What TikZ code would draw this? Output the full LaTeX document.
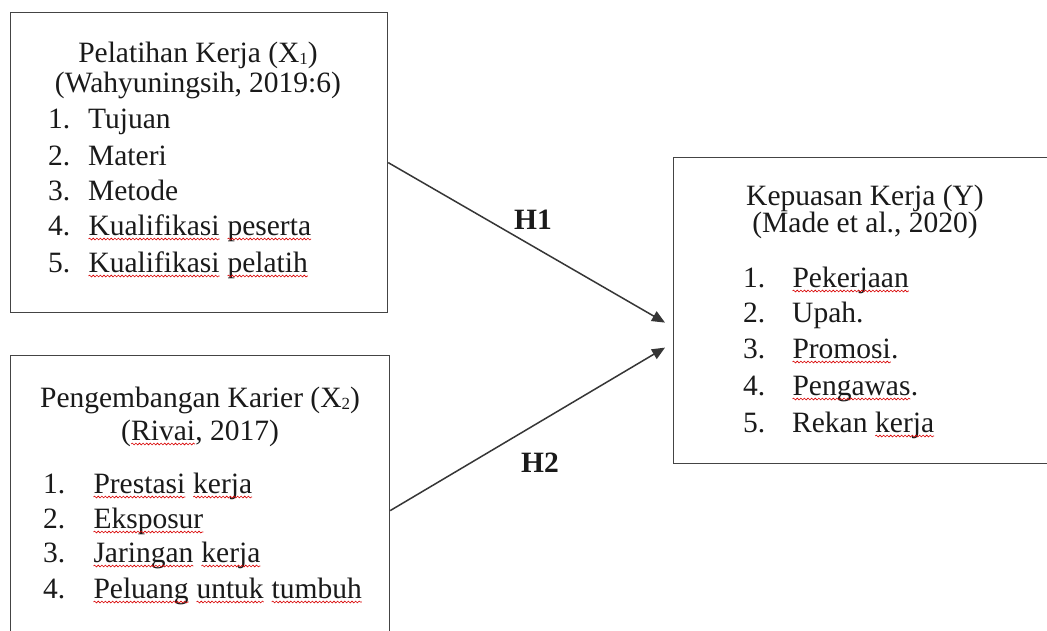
\documentclass[tikz,border=0pt]{standalone}
\usepackage{fontspec}
\setmainfont{Liberation Serif}
\usetikzlibrary{arrows.meta,decorations.pathmorphing}
\definecolor{ink}{HTML}{1A1A1A}
\definecolor{frame}{HTML}{444444}
\newcommand\sq[1]{\tikz[baseline=(w.base)]{\node[inner sep=0pt,outer sep=0pt,text=ink](w){#1};\draw[red!85!black,line width=0.6pt,decorate,decoration={snake,amplitude=0.9pt,segment length=3.6pt}]([yshift=-4pt]w.base west)--([yshift=-4pt]w.base east);}}
\newcommand\subidx[1]{\raisebox{-2pt}{\fontsize{17}{17}\selectfont #1}}
\begin{document}
\begin{tikzpicture}[x=1pt,y=-1pt,
  box/.style={draw=frame,line width=1.2pt,inner sep=0pt,anchor=north west},
  txt/.style={inner sep=0pt,text=ink,font=\fontsize{29.5}{35}\selectfont},
  hd/.style={txt,anchor=base},
  item/.style={txt,anchor=base west},
  link/.style={draw=frame!80!black,line width=1.5pt,-{Triangle[length=13pt,width=11pt]}},
  lab/.style={txt,anchor=center,font=\fontsize{29.5}{35}\selectfont\bfseries}]
\clip (0,0) rectangle (1047,630);
\fill[white] (0,0) rectangle (1047,630);
% boxes
\node[box,minimum width=377pt,minimum height=300pt] (b1) at (10,12) {};
\node[box,minimum width=379pt,minimum height=310pt] (b2) at (10,355) {};
\node[box,minimum width=390pt,minimum height=306pt] (b3) at (673,157) {};
% box 1 text
\node[hd] (t1a) at (198,62) {Pelatihan Kerja (X\subidx{1})};
\node[hd] (t1b) at (198,92) {(Wahyuningsih, 2019:6)};
\node[item] (i11) at (48,128) {\makebox[40pt][l]{1.}Tujuan};
\node[item] (i12) at (48,165) {\makebox[40pt][l]{2.}Materi};
\node[item] (i13) at (48,200) {\makebox[40pt][l]{3.}Metode};
\node[item] (i14) at (48,235) {\makebox[40pt][l]{4.}\sq{Kualifikasi} \sq{peserta}};
\node[item] (i15) at (48,272) {\makebox[40pt][l]{5.}\sq{Kualifikasi} \sq{pelatih}};
% box 2 text
\node[hd] (t2a) at (200,407) {Pengembangan Karier (X\subidx{2})};
\node[hd] (t2b) at (200,440) {(\sq{Rivai}, 2017)};
\node[item] (i21) at (43,493) {\makebox[50pt][l]{1.}\sq{Prestasi} \sq{kerja}};
\node[item] (i22) at (43,528) {\makebox[50pt][l]{2.}\sq{Eksposur}};
\node[item] (i23) at (43,562) {\makebox[50pt][l]{3.}\sq{Jaringan} \sq{kerja}};
\node[item] (i24) at (43,598) {\makebox[50pt][l]{4.}\sq{Peluang} \sq{untuk} \sq{tumbuh}};
% box 3 text
\node[hd] (t3a) at (865,205) {Kepuasan Kerja (Y)};
\node[hd] (t3b) at (865,232) {(Made et al., 2020)};
\node[item] (i31) at (743,287) {\makebox[49pt][l]{1.}\sq{Pekerjaan}};
\node[item] (i32) at (743,322) {\makebox[49pt][l]{2.}Upah.};
\node[item] (i33) at (743,358) {\makebox[49pt][l]{3.}\sq{Promosi}.};
\node[item] (i34) at (743,395) {\makebox[49pt][l]{4.}\sq{Pengawas}.};
\node[item] (i35) at (743,432) {\makebox[49pt][l]{5.}Rekan \sq{kerja}};
% connectors
\coordinate (e1) at ([xshift=-8pt,yshift=-12pt]b3.west);
\coordinate (e2) at ([xshift=-8pt,yshift=-37pt]b3.west);
\draw[link] (b1.east) -- (e1);
\draw[link] (b2.east) -- (e2);
\node[lab] (h1) at (533,220) {H1};
\node[lab] (h2) at (540,463) {H2};
\end{tikzpicture}
\end{document}
